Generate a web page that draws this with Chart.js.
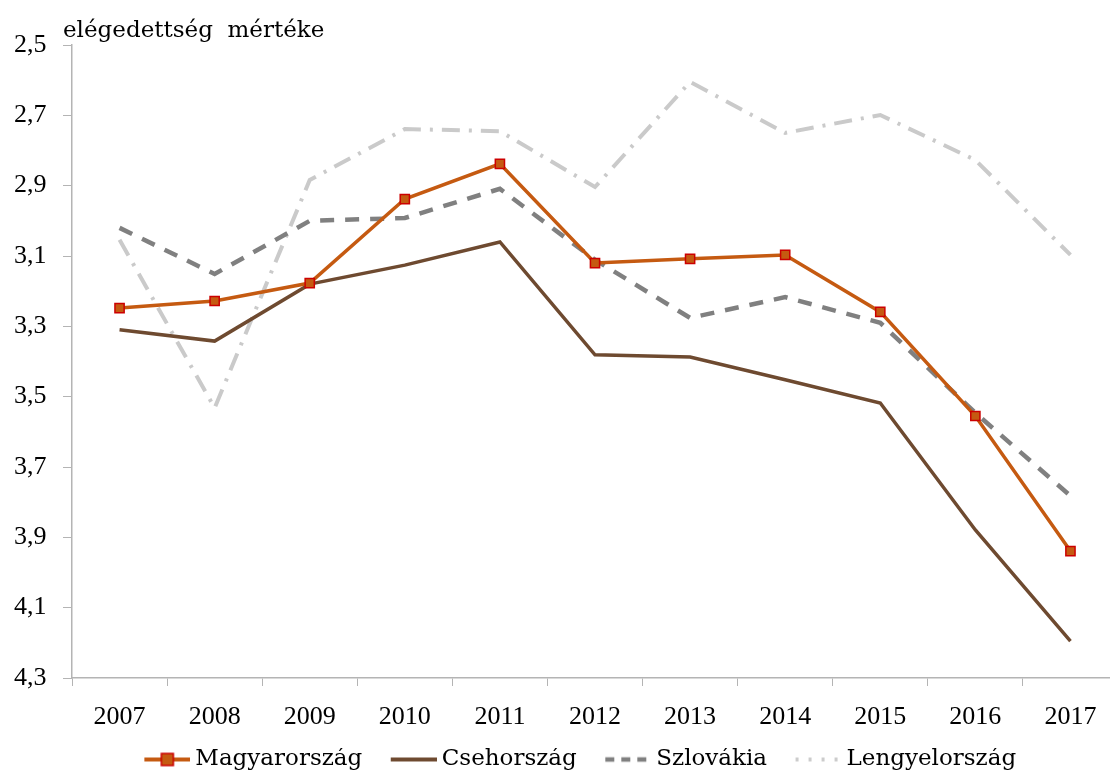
<!DOCTYPE html>
<html>
<head>
<meta charset="utf-8">
<script src="https://cdn.jsdelivr.net/npm/chart.js@4.4.1/dist/chart.umd.min.js"></script>
<style>
    html, body { margin: 0; padding: 0; background: #fff; overflow: hidden; }
    #wrap { position: relative; width: 1110px; height: 773px; overflow: hidden; }
    #chart { position: absolute; left: 0; top: 0; display: block; width: 1118px; height: 781px; }
</style>
</head>
<body>
<div id="wrap"><canvas id="chart" width="1118" height="781"></canvas></div>
<script>
// Évek és országonkénti értékek
var evek = ['2007', '2008', '2009', '2010', '2011', '2012', '2013', '2014', '2015', '2016', '2017'];
var magyarorszag = [3.248, 3.228, 3.177, 2.938, 2.838, 3.120, 3.108, 3.097, 3.259, 3.555, 3.939];
var csehorszag = [3.310, 3.342, 3.180, 3.126, 3.060, 3.381, 3.387, 3.452, 3.518, 3.879, 4.195];
var szlovakia = [3.020, 3.151, 3.000, 2.992, 2.909, 3.111, 3.276, 3.217, 3.290, 3.546, 3.782];
var lengyelorszag = [3.054, 3.532, 2.884, 2.739, 2.745, 2.904, 2.605, 2.750, 2.699, 2.827, 3.097];
var tengelyCim = 'elégedettség  mértéke';

var szamBetu = '"Liberation Serif", serif';
var szovegBetu = '"DejaVu Serif", serif';
var tengelySzin = '#b4b4b4';

// Jelmagyarázat kis rajzai (a vonal a kép jobb részén, közel a szöveghez)
function jelKep(szin, vastag, szaggatas, negyzet) {
    var c = document.createElement('canvas');
    c.width = 81;
    c.height = 16;
    var ctx = c.getContext('2d');
    ctx.strokeStyle = szin;
    ctx.lineWidth = vastag;
    ctx.setLineDash(szaggatas);
    ctx.beginPath();
    ctx.moveTo(35, 8);
    ctx.lineTo(81, 8);
    ctx.stroke();
    if (negyzet) {
        ctx.setLineDash([]);
        ctx.fillStyle = '#c55a11';
        ctx.fillRect(52, 2, 12, 12);
        ctx.strokeStyle = '#cc0000';
        ctx.lineWidth = 1.5;
        ctx.strokeRect(52, 2, 12, 12);
    }
    return c;
}

var jelek = [
    jelKep('#c55a11', 4, [], true),
    jelKep('#6e4a30', 4, [], false),
    jelKep('#808080', 4.5, [9, 7], false),
    jelKep('#cccccc', 4, [3, 10, 3, 10], false)
];

var cimPlugin = {
    id: 'cim',
    afterDraw: function (chart) {
        var ctx = chart.ctx;
        ctx.save();
        ctx.font = '23px ' + szovegBetu;
        ctx.fillStyle = '#000';
        ctx.textBaseline = 'alphabetic';
        ctx.fillText(tengelyCim, chart.chartArea.left - 9, chart.chartArea.top - 8);
        ctx.restore();
    }
};

new Chart(document.getElementById('chart'), {
    type: 'line',
    data: {
        labels: evek,
        datasets: [{
            label: 'Magyarország',
            data: magyarorszag,
            borderColor: '#c55a11',
            borderWidth: 3.5,
            pointStyle: 'rect',
            pointRadius: 6.5,
            pointBackgroundColor: '#c55a11',
            pointBorderColor: '#cc0000',
            pointBorderWidth: 1.5,
            order: 0
        }, {
            label: 'Csehország',
            data: csehorszag,
            borderColor: '#6e4a30',
            borderWidth: 3.5,
            pointRadius: 0,
            order: 1
        }, {
            label: 'Szlovákia',
            data: szlovakia,
            borderColor: '#808080',
            borderWidth: 4.5,
            borderDash: [14, 11],
            pointRadius: 0,
            order: 2
        }, {
            label: 'Lengyelország',
            data: lengyelorszag,
            borderColor: '#cacaca',
            borderWidth: 4,
            borderDash: [18, 9, 3, 9],
            pointRadius: 0,
            order: 3
        }]
    },
    options: {
        responsive: false,
        animation: false,
        layout: { autoPadding: false, padding: { top: 45, left: 14, right: 0, bottom: 0 } },
        plugins: {
            tooltip: { enabled: false },
            legend: {
                position: 'bottom',
                labels: {
                    font: { family: szovegBetu, size: 23 },
                    color: '#000',
                    usePointStyle: true,
                    pointStyleWidth: 68,
                    padding: 0,
                    generateLabels: function (chart) {
                        return chart.data.datasets.map(function (ds, i) {
                            return {
                                text: ds.label,
                                pointStyle: jelek[i],
                                fillStyle: 'transparent',
                                strokeStyle: 'transparent',
                                lineWidth: 0,
                                datasetIndex: i,
                                fontColor: '#000'
                            };
                        });
                    }
                }
            }
        },
        scales: {
            x: {
                offset: true,
                grid: {
                    offset: true,
                    drawOnChartArea: false,
                    tickLength: 8,
                    color: tengelySzin
                },
                border: { color: tengelySzin, width: 1.5 },
                ticks: {
                    font: { family: szamBetu, size: 26, lineHeight: 1.0 },
                    color: '#000',
                    padding: 18,
                    maxRotation: 0
                }
            },
            y: {
                reverse: true,
                min: 2.5,
                max: 4.3,
                afterFit: function (scale) { scale.width = 58; },
                grid: {
                    drawOnChartArea: false,
                    tickLength: 9,
                    color: tengelySzin
                },
                border: { color: tengelySzin, width: 1.5 },
                ticks: {
                    stepSize: 0.2,
                    crossAlign: 'far',
                    font: { family: szamBetu, size: 26 },
                    color: '#000',
                    padding: 19,
                    callback: function (v) { return v.toFixed(1).replace('.', ','); }
                }
            }
        }
    },
    plugins: [cimPlugin]
});
</script>
</body>
</html>
